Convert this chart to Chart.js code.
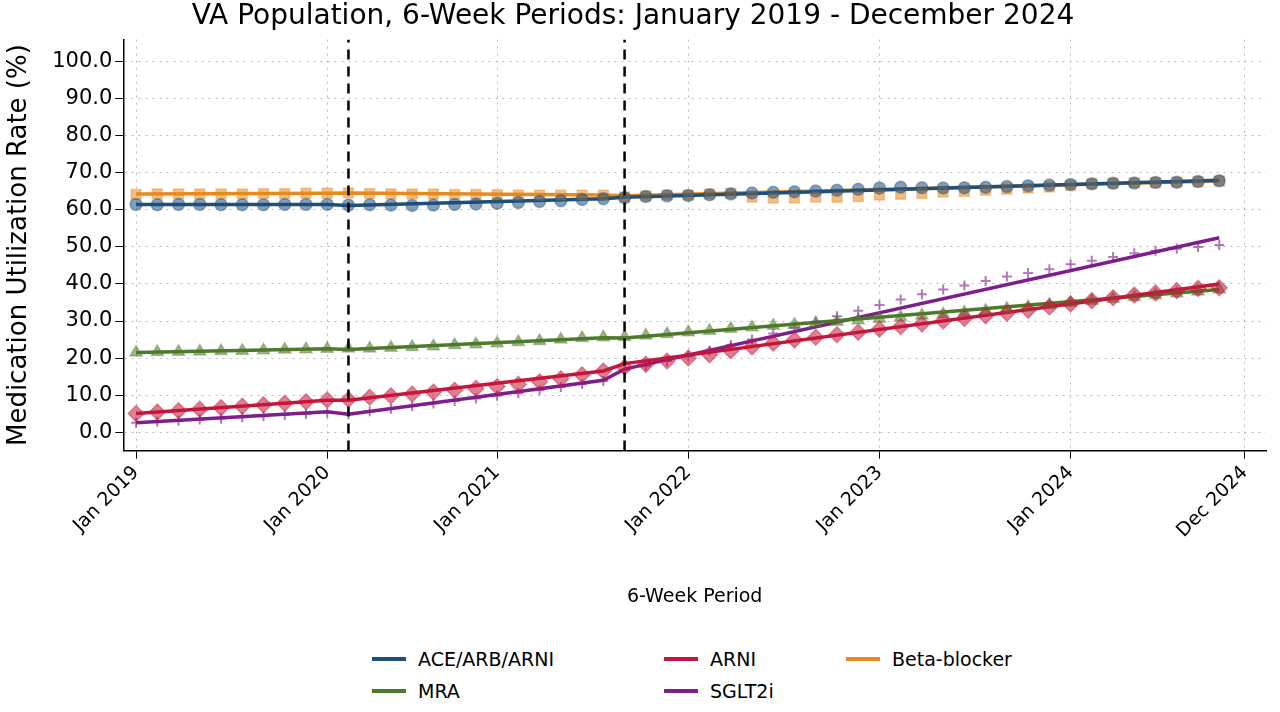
<!DOCTYPE html>
<html><head><meta charset="utf-8">
<script src="https://cdn.jsdelivr.net/npm/chart.js@4/dist/chart.umd.min.js"></script>
<style>
body{margin:0;background:#fff;font-family:"DejaVu Sans",sans-serif}
#wrap{position:relative;width:1280px;height:712px}
#legend{position:absolute;left:372px;top:648px;display:grid;grid-template-columns:292px 182px 200px;row-gap:10px;font-size:19px}
.it{display:flex;align-items:center}
.sw{width:34px;height:4px;margin-right:12px}
</style></head><body>
<div id="wrap"><canvas id="c" width="1280" height="612"></canvas><div id="legend"></div></div>
<script>
// period index of each 6-week point
const periods = Array.from({length: 52}, (_, i) => i);
const xTickPos = [0, 9, 17, 26, 35, 44, 52.2];
const xTickLabels = ['Jan 2019', 'Jan 2020', 'Jan 2021', 'Jan 2022', 'Jan 2023', 'Jan 2024', 'Dec 2024'];
const breaks = [10, 23];
const fitX = [0, 9, 10, 22, 23, 51];

const beta = [64.2,64.3,64.3,64.3,64.3,64.3,64.4,64.4,64.5,64.5,64.6,64.4,64.3,64.3,64.3,64.2,64.2,64.1,64.0,64.0,64.0,64.0,64.0,
  63.5,63.8,64.0,64.0,64.3,64.5,63.5,63.2,63.2,63.5,63.4,63.6,64.0,64.2,64.5,64.8,65.0,65.3,65.6,65.9,66.2,66.6,67.0,67.2,67.3,67.4,67.5,67.6,67.8];
const ace = [61.5,61.4,61.5,61.5,61.4,61.4,61.4,61.5,61.5,61.5,61.3,61.4,61.3,61.2,61.3,61.5,61.6,61.8,62.0,62.3,62.5,62.8,63.0,
  63.3,63.6,63.8,63.9,64.1,64.3,64.6,64.8,64.9,65.1,65.3,65.6,65.9,66.1,66.0,65.9,66.0,66.1,66.3,66.5,66.7,66.9,67.1,67.2,67.3,67.4,67.5,67.7,67.9];
const mra = [21.5,21.6,21.7,21.8,21.9,22.0,22.1,22.3,22.4,22.5,22.6,22.6,22.8,23.0,23.2,23.5,23.7,24.0,24.3,24.6,25.0,25.4,25.6,
  25.7,26.1,26.5,27.0,27.4,27.9,28.3,28.7,29.0,29.4,29.8,30.2,30.6,31.0,31.5,31.8,32.3,32.8,33.3,33.8,34.4,34.9,35.5,36.0,36.5,37.0,37.5,38.0,38.5];
const arni = [5.0,5.4,5.8,6.2,6.6,7.0,7.4,7.8,8.2,8.7,8.8,9.4,9.8,10.3,10.8,11.3,11.8,12.3,12.9,13.6,14.4,15.5,16.5,
  17.5,18.3,19.2,20.0,20.9,22.0,23.0,24.0,24.9,25.6,26.3,27.0,27.8,28.5,29.2,30.0,30.7,31.4,32.1,32.9,33.8,34.6,35.5,36.3,37.0,37.6,38.2,38.8,39.0];
const sglt2 = [2.5,2.8,3.1,3.4,3.7,4.0,4.3,4.6,4.9,5.2,4.8,5.6,6.3,7.0,7.7,8.4,9.1,9.8,10.5,11.3,12.2,13.0,13.8,
  16.8,17.8,19.2,20.5,22.0,23.5,25.0,26.6,28.2,29.8,31.3,32.8,34.3,35.8,37.2,38.5,39.6,40.8,42.0,43.0,44.0,45.3,46.3,47.3,48.3,49.0,49.5,50.0,50.5];

// fitted segmented trend at fitX
const betaFit = [64.3,64.5,64.6,64.0,63.8,67.8];
const aceFit = [61.5,61.5,61.2,63.0,63.4,68.0];
const mraFit = [21.5,22.5,22.3,25.5,25.4,38.5];
const arniFit = [5.0,8.6,8.6,16.5,18.5,40.0];
const sglt2Fit = [2.5,5.5,4.8,14.0,17.0,52.5];

const series = [
  {name:'ACE/ARB/ARNI', obs:ace, fit:aceFit, color:'#1d4f7c', pt:'circle', r:6},
  {name:'ARNI', obs:arni, fit:arniFit, color:'#c4163a', pt:'rectRot', r:8},
  {name:'Beta-blocker', obs:beta, fit:betaFit, color:'#e8891d', pt:'rect', r:7},
  {name:'MRA', obs:mra, fit:mraFit, color:'#4d7a2a', pt:'triangle', r:7},
  {name:'SGLT2i', obs:sglt2, fit:sglt2Fit, color:'#7e1e8c', pt:'cross', r:5}
];
const toXY = (xs, ys) => xs.map((x, i) => ({x, y: ys[i]}));
const alpha = (hex, a) => hex + Math.round(a * 255).toString(16).padStart(2, '0');
const font = 'DejaVu Sans';

const datasets = [];
breaks.forEach(b => datasets.push({type:'line', data:[{x:b,y:-5},{x:b,y:106}], borderColor:'#000', borderWidth:2.5, borderDash:[10,7], pointRadius:0}));
series.forEach(s => datasets.push({type:'scatter', data:toXY(periods, s.obs), pointStyle:s.pt, pointRadius:s.r,
  backgroundColor:alpha(s.color, 0.55), borderColor:alpha(s.color, s.pt === 'cross' ? 0.6 : 0.4), borderWidth:s.pt === 'cross' ? 2 : 1.5}));
series.forEach(s => datasets.push({type:'line', data:toXY(fitX, s.fit), borderColor:s.color, borderWidth:3.5, pointRadius:0}));

new Chart(document.getElementById('c'), {
  data: {datasets},
  options: {
    responsive:false, animation:false,
    layout:{padding:{left:0, right:14, top:0}},
    plugins:{legend:{display:false}, tooltip:{enabled:false},
      title:{display:true, text:'VA Population, 6-Week Periods: January 2019 - December 2024', color:'#000',
        font:{size:28, family:font, weight:'normal'}, padding:{top:0, bottom:6}}},
    scales:{
      x:{type:'linear', min:-0.6, max:53.2,
        afterBuildTicks: ax => { ax.ticks = xTickPos.map(v => ({value:v})); },
        ticks:{autoSkip:false, maxRotation:45, minRotation:45, color:'#000', font:{size:19, family:font},
          callback:(v, i) => xTickLabels[i]},
        grid:{color:'#bbb', tickColor:'#000', tickLength:8},
        border:{display:true, color:'#000', width:1.5, dash:[2,5]},
        title:{display:true, text:'6-Week Period', color:'#000', font:{size:19, family:font}, padding:{top:40}}},
      y:{min:-5, max:106,
        afterBuildTicks: ax => { ax.ticks = [0,10,20,30,40,50,60,70,80,90,100].map(v => ({value:v})); },
        ticks:{color:'#000', font:{size:21, family:font}, callback:v => v.toFixed(1)},
        grid:{color:'#bbb', tickColor:'#000', tickLength:8},
        border:{display:true, color:'#000', width:1.5, dash:[2,5]},
        title:{display:true, text:'Medication Utilization Rate (%)', color:'#000', font:{size:26, family:font}, padding:{bottom:14}}}
    }
  }
});

document.getElementById('legend').innerHTML = series.map(s =>
  `<div class="it"><span class="sw" style="background:${s.color}"></span>${s.name}</div>`).join('');
</script></body></html>
